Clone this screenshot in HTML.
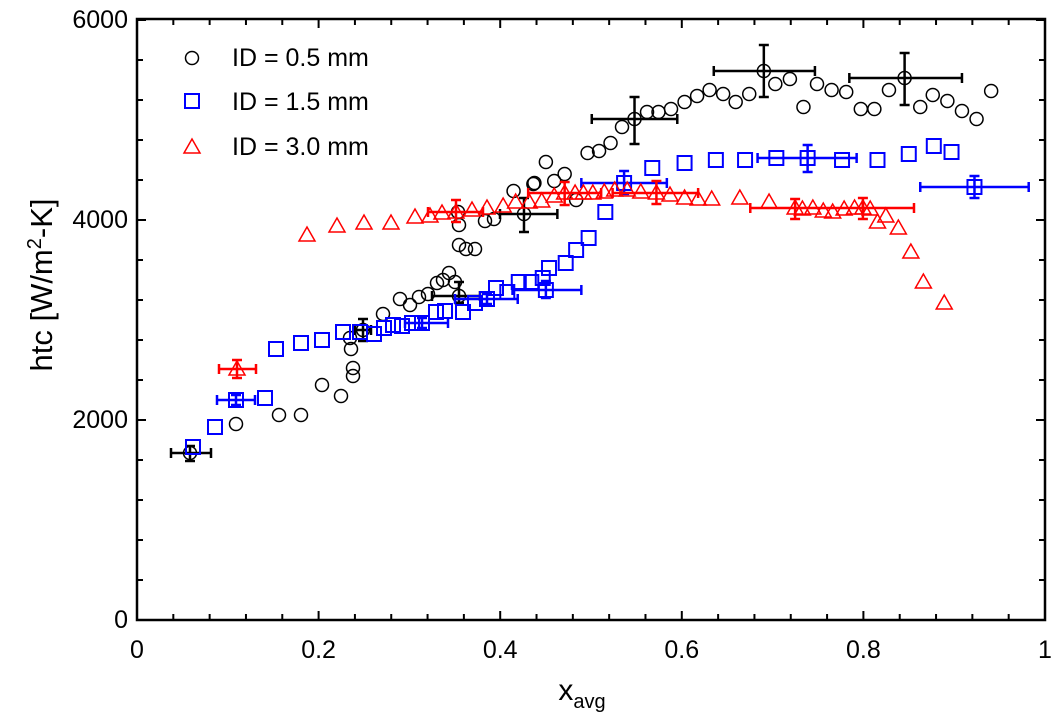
<!DOCTYPE html>
<html><head><meta charset="utf-8"><style>
html,body{margin:0;padding:0;background:#fff;}
svg{display:block;font-family:"Liberation Sans",Arial,sans-serif;}
</style></head><body>
<svg id="s" width="1053" height="719" viewBox="0 0 1053 719" xmlns="http://www.w3.org/2000/svg">
<rect x="137" y="19" width="908" height="601" fill="none" stroke="#000" stroke-width="2.5"/>
<g font-size="25" fill="#000" text-anchor="middle">
<text x="137" y="658">0</text><text x="318.6" y="658">0.2</text><text x="500.2" y="658">0.4</text><text x="681.8" y="658">0.6</text><text x="863.4" y="658">0.8</text><text x="1045" y="658">1</text>
</g>
<g font-size="25" fill="#000" text-anchor="end">
<text x="128" y="628">0</text><text x="128" y="428">2000</text><text x="128" y="228">4000</text><text x="128" y="28">6000</text>
</g>
<text x="582" y="700" font-size="30" text-anchor="middle">x<tspan font-size="20" dy="8">avg</tspan></text>
<text transform="translate(52,285) rotate(-90)" font-size="31" text-anchor="middle">htc  [W/m<tspan font-size="20" dy="-11">2</tspan><tspan dy="11">-K]</tspan></text>
<g font-size="25" fill="#000">
<text x="232" y="66">ID = 0.5 mm</text>
<text x="232" y="110">ID = 1.5 mm</text>
<text x="232" y="155">ID = 3.0 mm</text>
</g>
<g id="d"></g>
</svg>
<script>
var ns="http://www.w3.org/2000/svg",g=document.getElementById('d');
function fx(x){return x>500?500+(x-500)*1.0428:x;}
function el(t,a){var e=document.createElementNS(ns,t);for(var k in a)e.setAttribute(k,a[k]);g.appendChild(e);return e;}
for(var i=0;i<=25;i++){var x=137+i*908/25,L=(i%5==0)?9:6;
el('line',{x1:x,y1:620,x2:x,y2:620-L,stroke:'#000','stroke-width':2});
el('line',{x1:x,y1:19,x2:x,y2:19+L,stroke:'#000','stroke-width':2});}
for(var i=0;i<=15;i++){var y=620-i*40,L=(i%5==0)?9:6;
el('line',{x1:137,y1:y,x2:137+L,y2:y,stroke:'#000','stroke-width':2});
el('line',{x1:1045,y1:y,x2:1045-L,y2:y,stroke:'#000','stroke-width':2});}
function circ(x,y,c){x=fx(x);el('circle',{cx:x,cy:y,r:6.5,fill:'none',stroke:c||'#000','stroke-width':1.5});}
function sq(x,y,c){x=fx(x);el('rect',{x:x-7,y:y-7,width:14,height:14,fill:'none',stroke:c||'#00f','stroke-width':2});}
function tri(x,y,c){x=fx(x);el('polygon',{points:(x-8)+','+(y+6)+' '+x+','+(y-8)+' '+(x+8)+','+(y+6),fill:'none',stroke:c||'#f00','stroke-width':1.5});}
function eb(x,y,x1,x2,y1,y2,c){x=fx(x);x1=fx(x1);x2=fx(x2);
el('line',{x1:x1,y1:y,x2:x2,y2:y,stroke:c,'stroke-width':2.5});
el('line',{x1:x1,y1:y-5,x2:x1,y2:y+5,stroke:c,'stroke-width':2.5});
el('line',{x1:x2,y1:y-5,x2:x2,y2:y+5,stroke:c,'stroke-width':2.5});
el('line',{x1:x,y1:y1,x2:x,y2:y2,stroke:c,'stroke-width':2.5});
el('line',{x1:x-5,y1:y1,x2:x+5,y2:y1,stroke:c,'stroke-width':2.5});
el('line',{x1:x-5,y1:y2,x2:x+5,y2:y2,stroke:c,'stroke-width':2.5});}
circ(192,58);sq(192,101);tri(192,147);
var C=[[190,453],[236,424],[279,415],[301,415],[322,385],[341,396],[353,368],[353,376],[351,349],[350,338],[363,330],[383,314],[400,299],[410,305],[419,297],[428,294],[437,283],[443,280],[449,273],[455,282],[459,296],[459,225],[459,245],[466,249],[475,249],[458,212],[485,221],[494,219],[513,191],[523,214],[533,183],[544,162],[532,184],[552,181],[562,174],[573,200],[584,153],[595,151],[606,143],[617,127],[629,119],[641,112],[652,112],[664,109],[677,102],[689,96],[701,90],[714,94],[726,102],[739,94],[753,71],[764,84],[778,79],[791,107],[804,84],[818,90],[832,92],[846,109],[859,109],[873,90],[888,78],[903,107],[915,95],[929,101],[943,111],[957,119],[971,91]];
C.forEach(function(p){circ(p[0],p[1]);});
eb(190,453,171,211,446,461,'#000');eb(363,330,355,371,319,341,'#000');eb(459,296,432,480,282,303,'#000');
eb(523,214,500,555,198,232,'#000');eb(629,119,588,670,97,144,'#000');eb(753,71,705,802,45,97,'#000');eb(888,78,835,943,53,105,'#000');
var S=[[193,447],[215,427],[236,400],[265,398],[276,349],[301,343],[322,340],[343,332],[360,332],[374,334],[384,328],[393,325],[402,326],[412,323],[422,323],[436,312],[445,311],[463,312],[475,303],[487,299],[496,288],[507,292],[518,282],[530,282],[541,278],[544,290],[547,268],[563,263],[573,250],[585,238],[601,212],[619,183],[646,168],[677,163],[707,160],[735,160],[765,158],[795,158],[828,160],[862,160],[892,154],[916,146],[933,152],[955,187]];
S.forEach(function(p){sq(p[0],p[1]);});
eb(236,400,217,255,395,405,'#00f');eb(422,323,405,448,318,328,'#00f');eb(487,299,455,517,294,304,'#00f');
eb(544,290,512,578,281,298,'#00f');eb(619,183,578,660,171,194,'#00f');eb(795,158,747,842,145,172,'#00f');eb(955,187,903,1007,176,198,'#00f');
var T=[[237,369],[307,235],[337,226],[364,223],[391,223],[415,217],[430,216],[442,213],[456,212],[472,210],[487,208],[503,206],[515,202],[528,202],[540,201],[552,196],[562,193],[572,193],[580,193],[589,193],[600,192],[610,190],[622,190],[635,192],[650,193],[663,195],[677,198],[690,199],[703,199],[730,198],[758,202],[783,208],[790,209],[800,208],[810,211],[819,212],[830,209],[840,208],[848,208],[855,209],[862,222],[870,216],[882,228],[894,252],[906,282],[926,303]];
T.forEach(function(p){tri(p[0],p[1]);});
eb(237,369,219,256,360,378,'#f00');eb(456,212,428,483,200,222,'#f00');eb(562,193,527,597,182,205,'#f00');
eb(650,193,608,690,181,204,'#f00');eb(783,208,740,897,199,219,'#f00');eb(848,208,848,848,198,219,'#f00');
</script>
</body></html>
